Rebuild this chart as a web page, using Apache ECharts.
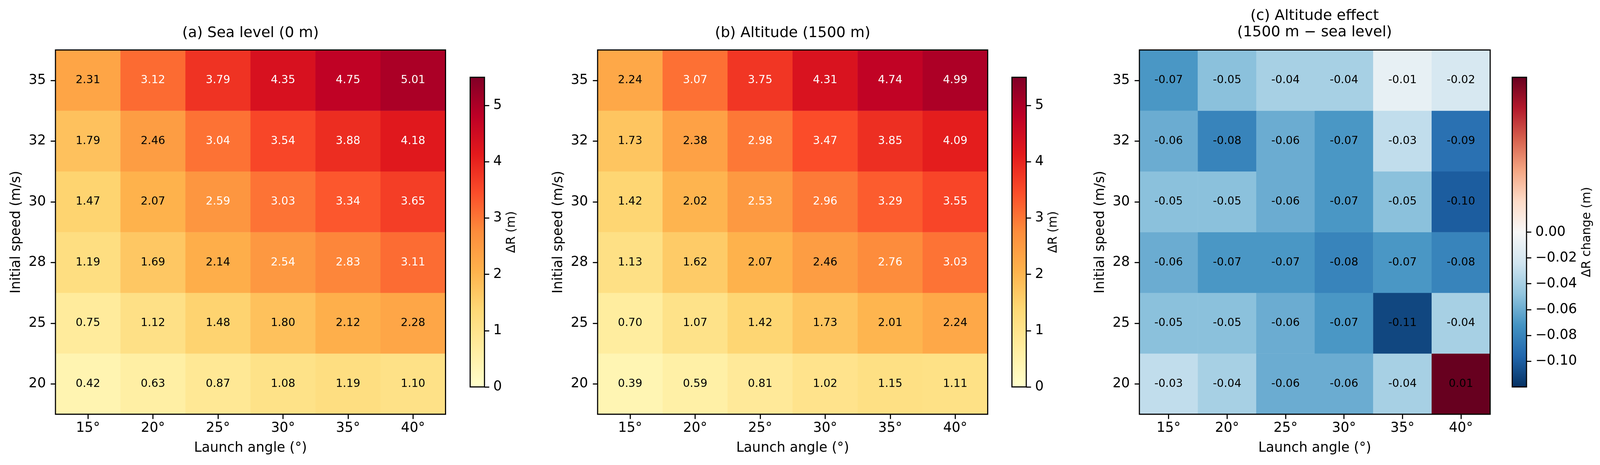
<!DOCTYPE html>
<html>
<head>
<meta charset="utf-8">
<title>Range gain heatmaps</title>
<script src="https://cdn.jsdelivr.net/npm/echarts@6/dist/echarts.min.js"></script>
<style>
  html, body { margin: 0; padding: 0; background: #fff; overflow: hidden; }
  #main { width: 100vw; height: 100vh; }
</style>
</head>
<body>
<div id="main"></div>
<script>
// launch angles (x) and initial speeds (y, bottom -> top)
var angles = ['15°', '20°', '25°', '30°', '35°', '40°'];
var speeds = ['20', '25', '28', '30', '32', '35'];

// ΔR (m), one row per speed, same order as speeds
var seaLevel = [
  [0.42, 0.63, 0.87, 1.08, 1.19, 1.10],
  [0.75, 1.12, 1.48, 1.80, 2.12, 2.28],
  [1.19, 1.69, 2.14, 2.54, 2.83, 3.11],
  [1.47, 2.07, 2.59, 3.03, 3.34, 3.65],
  [1.79, 2.46, 3.04, 3.54, 3.88, 4.18],
  [2.31, 3.12, 3.79, 4.35, 4.75, 5.01]
];
var altitude = [
  [0.39, 0.59, 0.81, 1.02, 1.15, 1.11],
  [0.70, 1.07, 1.42, 1.73, 2.01, 2.24],
  [1.13, 1.62, 2.07, 2.46, 2.76, 3.03],
  [1.42, 2.02, 2.53, 2.96, 3.29, 3.55],
  [1.73, 2.38, 2.98, 3.47, 3.85, 4.09],
  [2.24, 3.07, 3.75, 4.31, 4.74, 4.99]
];
var altEffect = [
  [-0.03, -0.04, -0.06, -0.06, -0.04, 0.01],
  [-0.05, -0.05, -0.06, -0.07, -0.11, -0.04],
  [-0.06, -0.07, -0.07, -0.08, -0.07, -0.08],
  [-0.05, -0.05, -0.06, -0.07, -0.05, -0.10],
  [-0.06, -0.08, -0.06, -0.07, -0.03, -0.09],
  [-0.07, -0.05, -0.04, -0.04, -0.01, -0.02]
];

// colour bar ranges and ticks
var rangeMax = 5.5;
var rangeTicks = [0, 1, 2, 3, 4, 5];
var diffMin = -0.12, diffMax = 0.01;
var diffTicks = [-0.10, -0.08, -0.06, -0.04, -0.02, 0.00];

var FONT = 'DejaVu Sans';
var YlOrRd = ['#ffffcc', '#ffeda0', '#fed976', '#feb24c', '#fd8d3c', '#fc4e2a', '#e31a1c', '#bd0026', '#800026'];
var RdBu_r = ['#053061', '#2166ac', '#4393c3', '#92c5de', '#d1e5f0', '#f7f7f7', '#fddbc7', '#f4a582', '#d6604d', '#b2182b', '#67001f'];

// layout is written for a 4356 x 1191 canvas, scaled to the real window
var KX = (window.innerWidth / 4356) || 1;
var KY = (window.innerHeight / 1191) || 1;
var K = Math.min(KX, KY);
function px(v) { return v * K; }

function stops(cols) {
  return cols.map(function (c, i) { return { offset: i / (cols.length - 1), color: c }; });
}

// two-slope norm: vmin..0 -> 0..0.5, 0..vmax -> 0.5..1
function twoSlope(v) {
  return v < 0 ? 0.5 * (v - diffMin) / (0 - diffMin) : 0.5 + 0.5 * v / diffMax;
}

function cells(rows, whiteAbove, norm) {
  var out = [];
  rows.forEach(function (row, y) {
    row.forEach(function (v, x) {
      out.push({
        value: [x, y, v, norm ? norm(v) : v],
        label: { color: v > whiteAbove ? '#ffffff' : '#000000' }
      });
    });
  });
  return out;
}

var boxes = [
  [151, 128, 1062, 933],
  [1627, 128, 1062, 933],
  [3102, 128, 955, 933],
  [1280, 198, 39, 793],
  [2755, 198, 39, 793],
  [4117, 198, 39, 793]
];
var grids = boxes.map(function (b, i) {
  var g = {
    left: b[0] * KX, top: b[1] * KY, width: b[2] * KX, height: b[3] * KY,
    containLabel: false, outerBoundsMode: 'none'
  };
  if (i < 3) {
    g.show = true; g.z = 5;
    g.borderColor = '#000'; g.borderWidth = px(3);
    g.backgroundColor = 'transparent';
  }
  return g;
});

var tickStyle = { show: true, length: px(13), lineStyle: { color: '#000', width: px(3) } };
var labelStyle = { color: '#000', fontSize: px(37), fontFamily: FONT };
var nameStyle = { color: '#000', fontSize: px(37), fontFamily: FONT };

var xAxes = [], yAxes = [];
for (var i = 0; i < 3; i++) {
  xAxes.push({
    type: 'category', gridIndex: i, data: angles,
    axisLine: { show: false },
    axisTick: Object.assign({ alignWithLabel: true }, tickStyle),
    axisLabel: Object.assign({ margin: px(20) }, labelStyle),
    splitLine: { show: false },
    name: 'Launch angle (°)', nameLocation: 'middle', nameGap: px(74), nameTextStyle: nameStyle
  });
  yAxes.push({
    type: 'category', gridIndex: i, data: speeds,
    axisLine: { show: false },
    axisTick: Object.assign({ alignWithLabel: true }, tickStyle),
    axisLabel: Object.assign({ margin: px(26) }, labelStyle),
    splitLine: { show: false },
    name: 'Initial speed (m/s)', nameLocation: 'middle', nameGap: px(88), nameTextStyle: nameStyle
  });
}
for (var j = 3; j < 6; j++) {
  xAxes.push({ type: 'category', gridIndex: j, data: ['bar'], show: false });
}
var cbName = { color: '#000', fontSize: px(33), fontFamily: FONT };
[3, 4].forEach(function (g) {
  yAxes.push({
    type: 'value', gridIndex: g, position: 'right', min: 0, max: rangeMax, interval: 1,
    axisLine: { show: false },
    axisTick: Object.assign({ customValues: rangeTicks }, tickStyle),
    axisLabel: Object.assign({ margin: px(24), customValues: rangeTicks }, labelStyle),
    splitLine: { show: false },
    name: 'ΔR (m)', nameLocation: 'middle', nameRotate: 90, nameGap: px(58), nameTextStyle: cbName
  });
});
yAxes.push({
  type: 'value', gridIndex: 5, position: 'right', min: -0.12, max: 0.12, interval: 0.02,
  axisLine: { show: false },
  axisTick: Object.assign({ customValues: diffTicks }, tickStyle),
  axisLabel: Object.assign({
    margin: px(24), customValues: diffTicks,
    formatter: function (v) { return (v < -1e-9 ? '\u2212' : '') + Math.abs(v).toFixed(2); }
  }, labelStyle),
  splitLine: { show: false },
  name: 'ΔR change (m)', nameLocation: 'middle', nameRotate: 90, nameGap: px(148), nameTextStyle: cbName
});

function heat(idx, rows, white, norm) {
  return {
    type: 'heatmap', xAxisIndex: idx, yAxisIndex: idx,
    data: cells(rows, white, norm),
    encode: { x: 0, y: 1 },
    label: {
      show: true, fontSize: px(30), fontFamily: FONT,
      formatter: function (p) { return p.value[2].toFixed(2); }
    },
    itemStyle: { borderWidth: 0 },
    emphasis: { disabled: true }
  };
}

function colourBar(idx, lo, hi, cols) {
  return {
    type: 'custom', xAxisIndex: idx, yAxisIndex: idx,
    data: [[0, lo, hi]],
    encode: { x: 0, y: [1, 2] },
    silent: true,
    clip: false,
    renderItem: function (params, api) {
      var bottom = api.coord([0, api.value(1)]);
      var top = api.coord([0, api.value(2)]);
      var w = api.size([1, 0])[0];
      return {
        type: 'rect',
        shape: { x: bottom[0] - w / 2, y: top[1], width: w, height: bottom[1] - top[1] },
        style: {
          fill: new echarts.graphic.LinearGradient(0, 1, 0, 0, stops(cols)),
          stroke: '#000', lineWidth: px(3)
        }
      };
    }
  };
}

var titleStyle = { color: '#000', fontSize: px(40), fontWeight: 'normal', fontFamily: FONT, lineHeight: px(44) };

var option = {
  backgroundColor: '#ffffff',
  animation: false,
  title: [
    { text: '(a) Sea level (0 m)', left: 682 * KX, top: 65 * KY, textAlign: 'center', padding: 0, textStyle: titleStyle },
    { text: '(b) Altitude (1500 m)', left: 2158 * KX, top: 65 * KY, textAlign: 'center', padding: 0, textStyle: titleStyle },
    { text: '(c) Altitude effect\n(1500 m \u2212 sea level)', left: 3579 * KX, top: 21 * KY, textAlign: 'center', padding: 0, textStyle: titleStyle }
  ],
  grid: grids,
  xAxis: xAxes,
  yAxis: yAxes,
  visualMap: [
    { type: 'continuous', show: false, seriesIndex: 0, dimension: 2, min: 0, max: rangeMax, inRange: { color: YlOrRd } },
    { type: 'continuous', show: false, seriesIndex: 1, dimension: 2, min: 0, max: rangeMax, inRange: { color: YlOrRd } },
    { type: 'continuous', show: false, seriesIndex: 2, dimension: 3, min: 0, max: 1, inRange: { color: RdBu_r } }
  ],
  series: [
    heat(0, seaLevel, 2.5),
    heat(1, altitude, 2.5),
    heat(2, altEffect, 99, twoSlope),
    colourBar(3, 0, rangeMax, YlOrRd),
    colourBar(4, 0, rangeMax, YlOrRd),
    colourBar(5, -0.12, 0.12, RdBu_r)
  ]
};

var myChart = echarts.init(document.getElementById('main'));
myChart.setOption(option);
</script>
</body>
</html>
